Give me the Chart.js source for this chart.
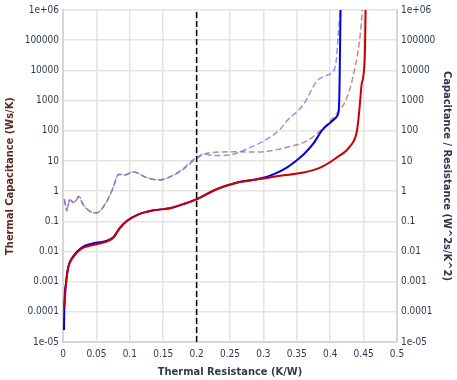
<!DOCTYPE html>
<html>
<head>
<meta charset="utf-8">
<script src="https://cdn.jsdelivr.net/npm/chart.js@4"></script>
<style>
  body { margin: 0; background: #fff; }
  #wrap { width: 457px; height: 380px; }
</style>
</head>
<body>
<div id="wrap"><canvas id="chart"></canvas></div>
<script>
// Courbes (x = résistance thermique K/W)
const xTicks = [0, 0.05, 0.1, 0.15, 0.2, 0.25, 0.3, 0.35, 0.4, 0.45, 0.5];
const xTickLabels = ['0', '0.05', '0.1', '0.15', '0.2', '0.25', '0.3', '0.35', '0.4', '0.45', '0.5'];
const yTicks = [1e-5, 1e-4, 1e-3, 1e-2, 1e-1, 1, 10, 100, 1000, 10000, 100000, 1e6];
const yTickLabels = ['1e-05', '0.0001', '0.001', '0.01', '0.1', '1', '10', '100', '1000', '10000', '100000', '1e+06'];

// Capacité thermique (axe gauche)
const capBlueX = [0.0015, 0.002, 0.0045, 0.008, 0.015, 0.028, 0.043, 0.063, 0.075, 0.085, 0.095, 0.113, 0.135, 0.16, 0.18, 0.2, 0.23, 0.26, 0.295, 0.315, 0.335, 0.35, 0.362, 0.375, 0.388, 0.4, 0.41, 0.413, 0.414, 0.415, 0.4155];
const capBlueY = [2.5e-5, 1.5e-4, 9e-4, 0.0032, 0.0068, 0.0135, 0.018, 0.022, 0.029, 0.06, 0.1, 0.17, 0.23, 0.27, 0.37, 0.54, 1.16, 1.9, 2.6, 3.6, 6, 10.5, 18, 38, 105, 185, 300, 550, 3400, 160000, 1e6];
const capRedX = [0.002, 0.0045, 0.008, 0.015, 0.028, 0.043, 0.063, 0.075, 0.085, 0.095, 0.113, 0.135, 0.16, 0.18, 0.2, 0.23, 0.26, 0.295, 0.325, 0.36, 0.385, 0.41, 0.43, 0.44, 0.4435, 0.447, 0.4495, 0.452, 0.453];
const capRedY = [1.4e-4, 8.5e-4, 0.003, 0.0063, 0.0125, 0.016, 0.0205, 0.028, 0.058, 0.1, 0.17, 0.23, 0.27, 0.37, 0.53, 1.15, 1.9, 2.5, 3.2, 4.1, 6, 13, 31, 98, 450, 3400, 6300, 43000, 1e6];

// Capacité / résistance (axe droit)
const ratioBlueX = [0.002, 0.0055, 0.0105, 0.0154, 0.024, 0.03, 0.043, 0.05, 0.063, 0.075, 0.083, 0.093, 0.105, 0.125, 0.145, 0.16, 0.18, 0.19, 0.2, 0.21, 0.23, 0.25, 0.28, 0.305, 0.325, 0.335, 0.36, 0.38, 0.392, 0.402, 0.409, 0.412, 0.415];
const ratioBlueY = [0.56, 0.22, 0.56, 0.42, 0.67, 0.37, 0.2, 0.19, 0.37, 1.3, 3.6, 3.5, 4.4, 2.8, 2.35, 3.0, 5.5, 9, 13, 16.6, 15, 15.7, 27.6, 52, 112, 210, 740, 4400, 6500, 8200, 20000, 150000, 1e6];
const ratioRedX = [0.002, 0.0055, 0.0105, 0.0154, 0.024, 0.03, 0.043, 0.05, 0.063, 0.075, 0.083, 0.093, 0.105, 0.125, 0.145, 0.16, 0.18, 0.19, 0.2, 0.22, 0.255, 0.295, 0.31, 0.325, 0.34, 0.365, 0.39, 0.41, 0.425, 0.437, 0.445, 0.448];
const ratioRedY = [0.5, 0.25, 0.52, 0.4, 0.62, 0.35, 0.2, 0.19, 0.36, 1.25, 3.5, 3.4, 4.3, 2.8, 2.35, 2.9, 5.2, 8, 12, 18.8, 20, 19.6, 21.5, 25, 30, 46, 125, 380, 1230, 12000, 152000, 1e6];

// Repère vertical à R = 0.2
const markerX = [0.2, 0.2];
const markerY = [1e-5, 1e6];

function points(xs, ys) {
    return xs.map((x, i) => ({ x: x, y: ys[i] }));
}

const tickFont = { family: "'DejaVu Sans Condensed', 'DejaVu Sans', sans-serif", size: 10 };
const titleFont = { family: "'DejaVu Sans Condensed', 'DejaVu Sans', sans-serif", size: 11, weight: 'bold' };
const gridColor = '#e4e4e4';

function logAxis(position, title, titleColor) {
    return {
        type: 'logarithmic',
        position: position,
        min: 1e-5,
        max: 1e6,
        afterBuildTicks: function(scale) {
            scale.ticks = yTicks.map(v => ({ value: v }));
        },
        afterFit: function(scale) {
            scale.width = position === 'left' ? 63 : 60;
        },
        grid: {
            color: gridColor,
            lineWidth: 1.5,
            drawTicks: false,
            drawOnChartArea: position === 'left'
        },
        border: { color: '#d6d6d6', width: 2 },
        ticks: {
            color: '#2f3a52',
            font: tickFont,
            padding: 4,
            autoSkip: false,
            callback: function(value, index) {
                return yTickLabels[index];
            }
        },
        title: {
            display: true,
            text: title,
            color: titleColor,
            font: titleFont,
            padding: { top: 4, bottom: 4 }
        }
    };
}

document.addEventListener('DOMContentLoaded', function() {
    const ctx = document.getElementById('chart').getContext('2d');
    new Chart(ctx, {
        type: 'line',
        data: {
            datasets: [
                {
                    data: points(markerX, markerY),
                    yAxisID: 'y',
                    borderColor: '#000000',
                    borderWidth: 1.5,
                    borderDash: [6, 3],
                    pointRadius: 0
                },
                {
                    data: points(capRedX, capRedY),
                    yAxisID: 'y',
                    borderColor: '#c80000',
                    borderWidth: 2,
                    pointRadius: 0,
                    cubicInterpolationMode: 'monotone'
                },
                {
                    data: points(capBlueX, capBlueY),
                    yAxisID: 'y',
                    borderColor: '#0000e0',
                    borderWidth: 2,
                    pointRadius: 0,
                    cubicInterpolationMode: 'monotone'
                },
                {
                    data: points(ratioBlueX, ratioBlueY),
                    yAxisID: 'y2',
                    borderColor: 'rgba(110, 110, 225, 0.75)',
                    borderWidth: 1.5,
                    borderDash: [6, 3],
                    pointRadius: 0,
                    cubicInterpolationMode: 'monotone'
                },
                {
                    data: points(ratioRedX, ratioRedY),
                    yAxisID: 'y2',
                    borderColor: 'rgba(175, 100, 100, 0.75)',
                    borderWidth: 1.5,
                    borderDash: [6, 3],
                    pointRadius: 0,
                    cubicInterpolationMode: 'monotone'
                }
            ]
        },
        options: {
            responsive: true,
            maintainAspectRatio: false,
            animation: false,
            layout: { padding: { top: 8, left: 0, right: 0, bottom: 0 } },
            plugins: {
                legend: { display: false },
                tooltip: { enabled: false }
            },
            scales: {
                x: {
                    type: 'linear',
                    min: 0,
                    max: 0.5,
                    afterBuildTicks: function(scale) {
                        scale.ticks = xTicks.map(v => ({ value: v }));
                    },
                    afterFit: function(scale) {
                        scale.height = 38;
                    },
                    grid: { color: gridColor, lineWidth: 1.5, drawTicks: false },
                    border: { color: '#d6d6d6', width: 2 },
                    ticks: {
                        color: '#2f3a52',
                        font: tickFont,
                        padding: 6,
                        maxRotation: 0,
                        autoSkip: false,
                        callback: function(value, index) {
                            return xTickLabels[index];
                        }
                    },
                    title: {
                        display: true,
                        text: 'Thermal Resistance (K/W)',
                        color: '#333b48',
                        font: titleFont,
                        padding: { top: 0, bottom: 1 }
                    }
                },
                y: logAxis('left', 'Thermal Capacitance (Ws/K)', '#5a2a20'),
                y2: logAxis('right', 'Capacitance / Resistance (W^2s/K^2)', '#2c3650')
            }
        }
    });
});
</script>
</body>
</html>
